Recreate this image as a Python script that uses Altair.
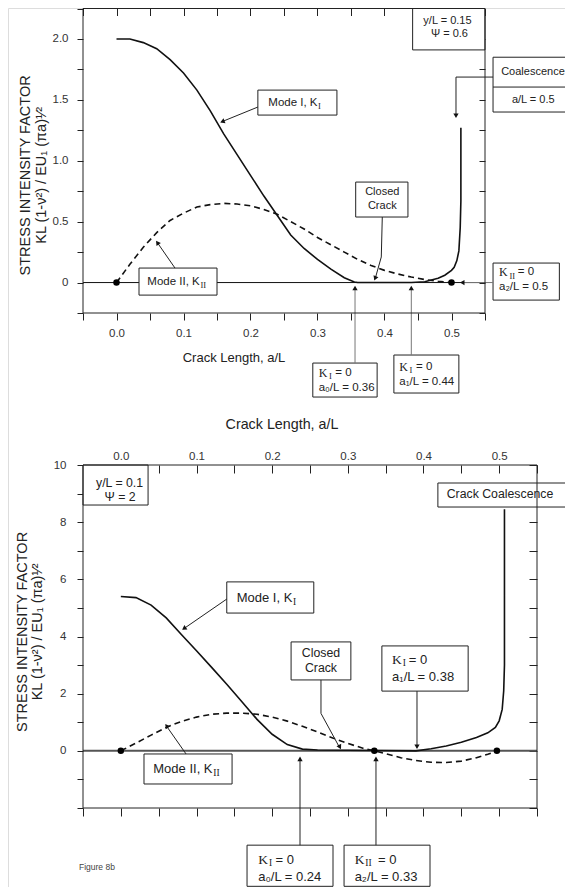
import altair as alt
import pandas as pd

# ---------------- upper panel : y/L = 0.15, Psi = 0.6 ----------------
TOP_MODE1_A = [0.0, 0.02, 0.04, 0.06, 0.08, 0.10, 0.12, 0.14, 0.16, 0.18,
               0.20, 0.22, 0.24, 0.26, 0.28, 0.30, 0.32, 0.34, 0.355, 0.36,
               0.44, 0.46, 0.48, 0.49, 0.50, 0.504, 0.508, 0.511, 0.513, 0.514, 0.514]
TOP_MODE1_K = [2.0, 2.0, 1.97, 1.92, 1.83, 1.72, 1.58, 1.41, 1.22, 1.05,
               0.88, 0.71, 0.55, 0.39, 0.28, 0.19, 0.11, 0.04, 0.005, 0.0,
               0.0, 0.006, 0.035, 0.06, 0.10, 0.125, 0.18, 0.26, 0.45, 0.67, 1.27]
TOP_MODE2_A = [0.0, 0.02, 0.04, 0.06, 0.08, 0.10, 0.12, 0.14, 0.16, 0.18, 0.20, 0.22, 0.24,
               0.26, 0.28, 0.30, 0.32, 0.34, 0.36, 0.38, 0.40, 0.42, 0.44, 0.46, 0.48, 0.50]
TOP_MODE2_K = [0.0, 0.15, 0.29, 0.41, 0.51, 0.57, 0.62, 0.64, 0.65, 0.645, 0.63, 0.60, 0.56,
               0.50, 0.44, 0.37, 0.31, 0.25, 0.19, 0.14, 0.10, 0.07, 0.045, 0.025, 0.01, 0.0]
TOP_DOTS_A = [0.0, 0.5]
TOP_DOTS_K = [0.0, 0.0]

# ---------------- lower panel : y/L = 0.1, Psi = 2 ----------------
BOT_MODE1_A = [0.0, 0.02, 0.04, 0.06, 0.08, 0.10, 0.12, 0.14, 0.16, 0.18, 0.20, 0.22,
               0.24, 0.26, 0.30, 0.34, 0.39, 0.41, 0.43, 0.45, 0.47, 0.485, 0.495,
               0.50, 0.504, 0.506, 0.507, 0.507]
BOT_MODE1_K = [5.4, 5.36, 5.1, 4.65, 4.07, 3.5, 2.92, 2.33, 1.72, 1.1, 0.58, 0.22,
               0.06, 0.03, 0.02, 0.01, 0.0, 0.07, 0.17, 0.3, 0.47, 0.63, 0.82,
               1.05, 1.45, 2.1, 3.0, 8.45]
BOT_MODE2_A = [0.0, 0.02, 0.04, 0.06, 0.08, 0.10, 0.12, 0.14, 0.16, 0.18, 0.20, 0.22, 0.24,
               0.26, 0.28, 0.30, 0.32, 0.335, 0.35, 0.37, 0.39, 0.41, 0.43, 0.45, 0.47,
               0.485, 0.497]
BOT_MODE2_K = [0.0, 0.27, 0.55, 0.82, 1.03, 1.18, 1.28, 1.32, 1.32, 1.28, 1.18, 1.04, 0.86,
               0.66, 0.45, 0.26, 0.09, 0.0, -0.1, -0.24, -0.34, -0.40, -0.41, -0.36, -0.24,
               -0.12, 0.0]
BOT_DOTS_A = [0.0, 0.335, 0.497]
BOT_DOTS_K = [0.0, 0.0, 0.0]

# ---------------- axes ----------------
X_DOMAIN = [-0.05, 0.55]
TOP_Y_DOMAIN = [-0.25, 2.25]
BOT_Y_DOMAIN = [-2, 10]
X_TICKS = [round(-0.05 + 0.05 * i, 2) for i in range(13)]
X_LABELS = [0.0, 0.1, 0.2, 0.3, 0.4, 0.5]
TOP_Y_TICKS = [round(-0.25 + 0.25 * i, 2) for i in range(11)]
TOP_Y_LABEL_VALUES = [0.0, 0.5, 1.0, 1.5, 2.0]
TOP_Y_LABEL_TEXT = ["0", "0.5", "1.0", "1.5", "2.0"]
BOT_Y_TICKS = list(range(-2, 11))

X_TITLE = "Crack Length, a/L"
Y_TITLE_1 = "STRESS INTENSITY FACTOR"
Y_TITLE_2 = "KL (1-ν²) / EU₁ (πa)¹⁄²"

# ---------------- annotations (data units) ----------------
TOP_BOXES = [  # a1, a2, k1, k2
    (0.442, 0.55, 1.91, 2.25),
    (0.562, 0.69, 1.40, 1.85),
    (0.357, 0.435, 0.538, 0.825),
    (0.562, 0.661, -0.144, 0.16),
    (0.211, 0.329, 1.375, 1.58),
    (0.0336, 0.15, -0.103, 0.119),
    (0.293, 0.389, -0.94, -0.661),
    (0.414, 0.511, -0.907, -0.595),
]
TOP_SEGMENTS = [
    ("m1", [(0.211, 1.441), (0.157, 1.32)], "#222"),
    ("m2", [(0.0873, 0.119), (0.0604, 0.3325)], "#222"),
    ("co", [(0.562, 1.687), (0.5067, 1.687), (0.5067, 1.37)], "#222"),
    ("dv", [(0.562, 1.605), (0.69, 1.605)], "#222"),
    ("cc", [(0.3967, 0.538), (0.3952, 0.21), (0.386, 0.03)], "#222"),
    ("k2", [(0.562, 0.0), (0.515, 0.0)], "#777"),
    ("b1", [(0.356, -0.661), (0.356, -0.04)], "#777"),
    ("b2", [(0.44, -0.595), (0.44, -0.04)], "#777"),
]
TOP_HEADS = [  # a, k, angle
    (0.158, 1.322, 248), (0.061, 0.328, 325), (0.5067, 1.37, 180),
    (0.386, 0.035, 202), (0.516, 0.0, 270), (0.356, -0.045, 0), (0.44, -0.045, 0),
]
TOP_TEXTS = [
    ("y/L = 0.15", 0.494, 2.149, "c11"),
    ("Ψ = 0.6", 0.497, 2.038, "c11"),
    ("Coalescence", 0.6216, 1.726, "c11"),
    ("a/L = 0.5", 0.622, 1.498, "c11"),
    ("Closed", 0.3967, 0.740, "c11"),
    ("Crack", 0.3967, 0.630, "c11"),
    ("Mode I, K", 0.2266, 1.478, "l11"),
    ("I", 0.3007, 1.449, "s8"),
    ("Mode II, K", 0.046, 0.0066, "l11"),
    ("II", 0.1254, -0.0205, "s8"),
    ("K", 0.5709, 0.086, "k12"),
    ("II", 0.5865, 0.055, "s8"),
    ("= 0", 0.5990, 0.086, "l11"),
    ("a₂/L = 0.5", 0.5709, -0.040, "l11"),
    ("K", 0.3018, -0.742, "k12"),
    ("I", 0.3170, -0.768, "s8"),
    ("= 0", 0.3265, -0.742, "l11"),
    ("a₀/L = 0.36", 0.3018, -0.862, "l11"),
    ("K", 0.4221, -0.693, "k12"),
    ("I", 0.4373, -0.719, "s8"),
    ("= 0", 0.4470, -0.693, "l11"),
    ("a₁/L = 0.44", 0.4221, -0.813, "l11"),
    (X_TITLE, 0.1754, -0.62, "t13"),
    (Y_TITLE_1, -0.135, 0.88, "ytitle"),
    (Y_TITLE_2, -0.111, 0.88, "ytitle"),
] + [(t, -0.0716, v, "ylab") for t, v in zip(TOP_Y_LABEL_TEXT, TOP_Y_LABEL_VALUES)]

BOT_BOXES = [
    (-0.05, 0.036, 8.6, 10.0),
    (0.419, 0.588, 8.53, 9.37),
    (0.140, 0.255, 4.82, 5.91),
    (0.0306, 0.147, -1.16, -0.11),
    (0.225, 0.304, 2.48, 3.81),
    (0.345, 0.459, 2.09, 3.67),
    (0.1668, 0.2804, -4.74, -3.30),
    (0.2950, 0.4086, -4.74, -3.30),
]
BOT_SEGMENTS = [
    ("m1", [(0.140, 5.31), (0.083, 4.27)], "#222"),
    ("m2", [(0.0862, -0.11), (0.060, 0.88)], "#222"),
    ("cc", [(0.2645, 2.48), (0.2645, 1.31), (0.289, 0.12)], "#222"),
    ("a1", [(0.3914, 2.09), (0.3914, 0.12)], "#222"),
    ("a0", [(0.2368, -3.30), (0.2368, -0.25)], "#222"),
    ("a2", [(0.3372, -3.30), (0.3372, -0.25)], "#222"),
]
BOT_HEADS = [
    (0.0835, 4.28, 236), (0.0605, 0.87, 325), (0.2895, 0.13, 153),
    (0.3914, 0.14, 180), (0.2368, -0.28, 0), (0.3372, -0.28, 0),
]
BOT_TEXTS = [
    ("y/L = 0.1", -0.0017, 9.36, "c12"),
    ("Ψ = 2", -0.001, 8.89, "c12"),
    ("Crack Coalescence", 0.5011, 8.97, "c12"),
    ("Closed", 0.2645, 3.42, "c12"),
    ("Crack", 0.2645, 2.90, "c12"),
    ("Mode I, K", 0.1531, 5.347, "l13"),
    ("I", 0.2275, 5.21, "s9"),
    ("Mode II, K", 0.0429, -0.636, "l13"),
    ("II", 0.1221, -0.776, "s9"),
    ("K", 0.3584, 3.17, "k14"),
    ("I", 0.3725, 3.06, "s9"),
    ("= 0", 0.3805, 3.17, "l13"),
    ("a₁/L = 0.38", 0.3584, 2.60, "l13"),
    ("K", 0.1815, -3.82, "k14"),
    ("I", 0.1958, -3.93, "s9"),
    ("= 0", 0.2045, -3.82, "l13"),
    ("a₀/L = 0.24", 0.1815, -4.41, "l13"),
    ("K", 0.309, -3.82, "k14"),
    ("II", 0.3230, -3.93, "s9"),
    ("= 0", 0.3400, -3.82, "l13"),
    ("a₂/L = 0.33", 0.309, -4.41, "l13"),
    ("Figure 8b", -0.0553, -4.06, "fig"),
    (X_TITLE, 0.213, 11.40, "t14"),
    (Y_TITLE_1, -0.129, 4.16, "ytitle"),
    (Y_TITLE_2, -0.109, 4.16, "ytitle"),
]

SANS = "Liberation Sans"
SERIF = "Liberation Serif"
STYLES = {
    "c11": dict(font=SANS, fontSize=11, align="center", color="#222"),
    "l11": dict(font=SANS, fontSize=11.5, align="left", color="#222"),
    "k12": dict(font=SERIF, fontSize=12, align="left", color="#222"),
    "s8": dict(font=SERIF, fontSize=8.5, align="left", color="#222"),
    "c12": dict(font=SANS, fontSize=12.3, align="center", color="#222"),
    "l13": dict(font=SANS, fontSize=13, align="left", color="#222"),
    "k14": dict(font=SERIF, fontSize=13.5, align="left", color="#222"),
    "s9": dict(font=SERIF, fontSize=9.5, align="left", color="#222"),
    "fig": dict(font=SANS, fontSize=8.5, align="left", color="#444"),
    "t13": dict(font=SANS, fontSize=13, align="center", color="#222"),
    "t14": dict(font=SANS, fontSize=14.3, align="center", color="#222"),
    "ylab": dict(font=SANS, fontSize=11.5, align="right", color="#333"),
    "ytitle": dict(font=SANS, fontSize=14.5, align="center", color="#222", angle=270),
}

W, H = 557, 879

XEXPR = "abs(datum.value*10 - round(datum.value*10)) < 0.001 ? format(datum.value, '.1f') : ''"
BOTYEXPR = "datum.value >= 0 && abs(datum.value % 2) < 0.001 ? format(datum.value, 'd') : ''"


def axis(orient, offset, values, tick, labels=False, expr=None, pad=6, size=11.5):
    kw = dict(orient=orient, offset=offset, values=values, domain=False, grid=False,
              title=None, tickColor="#222", tickWidth=1, labels=labels)
    if tick > 0:
        kw["tickSize"] = tick
    else:
        kw["ticks"] = False
    if labels:
        kw.update(labelExpr=expr, labelPadding=pad, labelFont=SANS, labelFontSize=size,
                  labelColor="#333", labelOverlap=False, labelFlush=False, labelBound=False)
        if orient == "left":
            kw["labelAlign"] = "right"
    return alt.Axis(**kw)


def panel(xr, yr, ydom, curves, dots, zero_style, boxes, segs, heads, texts, axes):
    xs = alt.Scale(domain=X_DOMAIN, range=xr, nice=False, zero=False)
    ys = alt.Scale(domain=ydom, range=yr, nice=False, zero=False)

    def X(f="a", ax=None):
        return alt.X(f + ":Q", scale=xs, axis=ax)

    def Y(f="k", ax=None):
        return alt.Y(f + ":Q", scale=ys, axis=ax)

    layers = []
    zdf = pd.DataFrame({"a": [X_DOMAIN[0]], "a2": [X_DOMAIN[1]], "k": [0.0]})
    layers.append(alt.Chart(zdf).mark_rule(**zero_style).encode(x=X(), x2=alt.X2("a2"), y=Y()))

    for A, K, style in curves:
        df = pd.DataFrame({"a": A, "k": K, "i": list(range(len(A)))})
        layers.append(alt.Chart(df).mark_line(**style).encode(x=X(), y=Y(), order="i:Q"))

    ddf = pd.DataFrame({"a": dots[0], "k": dots[1]})
    layers.append(alt.Chart(ddf).mark_circle(size=42, color="#000", opacity=1).encode(x=X(), y=Y()))

    bdf = pd.DataFrame(boxes, columns=["a", "a2", "k", "k2"])
    layers.append(alt.Chart(bdf).mark_rect(fill="white", stroke="#222", strokeWidth=1).encode(
        x=X(), x2=alt.X2("a2"), y=Y(), y2=alt.Y2("k2")))

    rows = []
    for sid, pts, col in segs:
        for i, (a, k) in enumerate(pts):
            rows.append({"id": sid, "i": i, "a": a, "k": k, "c": col})
    sdf = pd.DataFrame(rows)
    layers.append(alt.Chart(sdf).mark_line(strokeWidth=1).encode(
        x=X(), y=Y(), detail="id:N", order="i:Q", color=alt.Color("c:N", scale=None)))

    hdf = pd.DataFrame(heads, columns=["a", "k", "ang"])
    layers.append(alt.Chart(hdf).mark_point(shape="triangle-up", filled=True, size=28,
                                            color="#111", opacity=1).encode(
        x=X(), y=Y(), angle=alt.Angle("ang:Q", scale=None)))

    fdf = pd.DataFrame({"a": [X_DOMAIN[0]], "a2": [X_DOMAIN[1]], "k": [ydom[0]], "k2": [ydom[1]]})
    layers.append(alt.Chart(fdf).mark_rect(filled=False, color="#222", strokeWidth=1).encode(
        x=X(), x2=alt.X2("a2"), y=Y(), y2=alt.Y2("k2")))

    tdf = pd.DataFrame(texts, columns=["t", "a", "k", "st"])
    for st, props in STYLES.items():
        sub = tdf[tdf["st"] == st]
        if len(sub) == 0:
            continue
        layers.append(alt.Chart(sub).mark_text(baseline="middle", **props).encode(
            x=X(), y=Y(), text="t:N"))

    for xa, ya in axes:
        cdf = pd.DataFrame({"a": [0.0], "k": [0.0]})
        layers.append(alt.Chart(cdf).mark_point(opacity=0).encode(x=X(ax=xa), y=Y(ax=ya)))

    return alt.layer(*layers).resolve_axis(x="independent", y="independent")


SOLID = dict(color="#111", strokeWidth=1.6)
DASHED = dict(color="#111", strokeWidth=1.6, strokeDash=[6, 4])

TOP_XR, TOP_YR = [75, 477], [305, 0.5]
BOT_XR, BOT_YR = [75, 529], [800, 457]

top_axes = [
    (axis("bottom", -(H - 305), X_TICKS, 7, True, XEXPR, 7),
     axis("left", -75, TOP_Y_TICKS, 6)),
    (axis("top", -7.5, X_TICKS, 7), axis("right", -(W - 477 + 6), TOP_Y_TICKS, 6)),
]
bot_axes = [
    (axis("bottom", -(H - 800), X_TICKS, 8),
     axis("left", -75, BOT_Y_TICKS, 6, True, BOTYEXPR, 11)),
    (axis("top", -(457 + 8), X_TICKS, 8), axis("right", -(W - 529 + 8), BOT_Y_TICKS, 8)),
    (axis("top", -457, X_LABELS, 0, True, "format(datum.value, '.1f')", 4), None),
]

top = panel(TOP_XR, TOP_YR, TOP_Y_DOMAIN,
            [(TOP_MODE1_A, TOP_MODE1_K, SOLID), (TOP_MODE2_A, TOP_MODE2_K, DASHED)],
            (TOP_DOTS_A, TOP_DOTS_K), dict(color="#111", strokeWidth=1),
            TOP_BOXES, TOP_SEGMENTS, TOP_HEADS, TOP_TEXTS, top_axes)
bot = panel(BOT_XR, BOT_YR, BOT_Y_DOMAIN,
            [(BOT_MODE1_A, BOT_MODE1_K, SOLID), (BOT_MODE2_A, BOT_MODE2_K, DASHED)],
            (BOT_DOTS_A, BOT_DOTS_K), dict(color="#555", strokeWidth=2),
            BOT_BOXES, BOT_SEGMENTS, BOT_HEADS, BOT_TEXTS, bot_axes)

chart = alt.layer(top, bot).resolve_scale(x="independent", y="independent").properties(
    width=W, height=H, autosize=alt.AutoSizeParams(type="none"), padding=0
).configure_view(stroke=None).configure(background="white")

chart.save("out.html", embed_options={"renderer": "svg", "actions": False})
